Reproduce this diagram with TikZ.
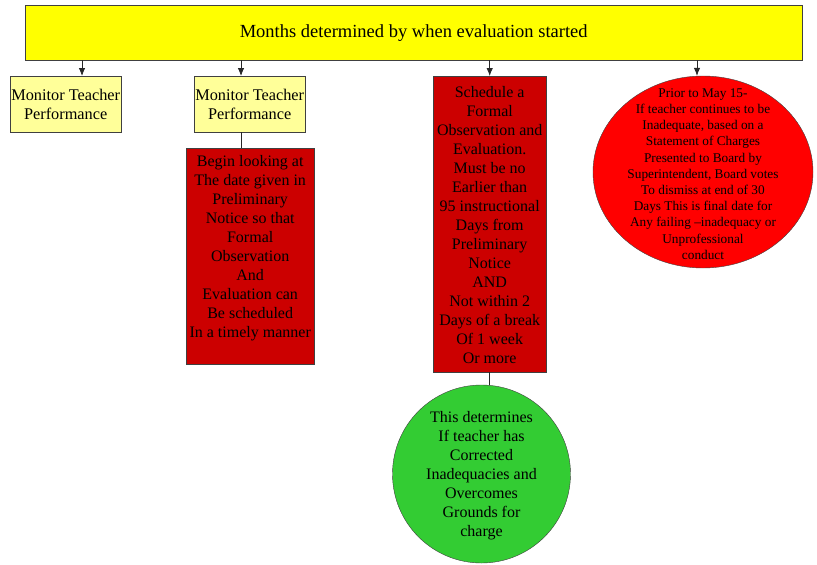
\documentclass[tikz,border=0pt]{standalone}
\usepackage{fontspec}
\setmainfont{Liberation Serif}
\usetikzlibrary{shapes.geometric,arrows.meta}
\definecolor{headyellow}{HTML}{FFFF00}
\definecolor{paleyellow}{HTML}{FFFF99}
\definecolor{darkred}{HTML}{CC0000}
\definecolor{brightred}{HTML}{FF0000}
\definecolor{grassgreen}{HTML}{33CC33}
\begin{document}
\begin{tikzpicture}[x=1pt,y=-1pt,
  head/.style={draw=black!75,fill=headyellow,inner sep=0,anchor=north west,text centered,font=\fontsize{18.5}{22}\selectfont},
  monitor/.style={draw=black!75,fill=paleyellow,inner sep=0,anchor=north west,align=center,font=\fontsize{16.3}{19}\selectfont},
  stepbox/.style={draw=black!75,fill=darkred,inner sep=0,anchor=north west},
  boxtext/.style={inner sep=0,align=center,font=\fontsize{16}{19}\selectfont},
  smalltext/.style={inner sep=0,align=center,font=\fontsize{13.3}{16.2}\selectfont},
  arr/.style={draw=black!85,line width=0.8pt,-{Latex[length=8pt,width=6.5pt]}},
  link/.style={draw=black!85,line width=0.8pt}
  ]
  \useasboundingbox (0,0) rectangle (817,565);
  %
  % Header
  %
  \node(months)[head,minimum width=777pt,minimum height=55pt] at (25,5) {Months determined by when evaluation started};
  %
  % Nodes
  %
  \node(monitorA)[monitor,minimum width=111pt,minimum height=56pt] at (10,76) {Monitor Teacher\\Performance};
  \node(monitorB)[monitor,minimum width=111pt,minimum height=56pt] at (194,76) {Monitor Teacher\\Performance};
  \node(prelim)  [stepbox,minimum width=128pt,minimum height=216pt] at (186,148) {};
  \node(prelimtxt)[boxtext,anchor=north] at ([yshift=-7pt]prelim.north)
    {Begin looking at\\The date given in\\Preliminary\\Notice so that\\Formal\\Observation\\And\\Evaluation can\\Be scheduled\\In a timely manner};
  \node(schedule)[stepbox,minimum width=113pt,minimum height=296pt] at (433,76) {};
  \node(scheduletxt)[boxtext,anchor=north] at ([yshift=-10pt]schedule.north)
    {Schedule a\\Formal\\Observation and\\Evaluation.\\Must be no\\Earlier than\\95 instructional\\Days from\\Preliminary\\Notice\\AND\\Not within 2\\Days of a break\\Of 1 week\\Or more};
  \node(review)[circle,draw=black!75,fill=grassgreen,inner sep=0,minimum size=178pt] at (481.5,474) {};
  \node(reviewtxt)[boxtext] at ([yshift=-2pt]review.center)
    {This determines\\If teacher has\\Corrected\\Inadequacies and\\Overcomes\\Grounds for\\charge};
  \node(dismiss)[ellipse,draw=black!75,fill=brightred,inner sep=0,minimum width=220pt,minimum height=192pt] at (703,172) {};
  \node(dismisstxt)[smalltext] at ([yshift=-2pt]dismiss.center)
    {Prior to May 15-\\If teacher continues to be\\Inadequate, based on a\\Statement of Charges\\Presented to Board by\\Superintendent, Board votes\\To dismiss at end of 30\\Days This is final date for\\Any failing --inadequacy or\\Unprofessional\\conduct};
  %
  % Arrow ends
  %
  \coordinate (tipA) at ([xshift=72pt]monitorA.north west);
  \coordinate (tipB) at ([xshift=47pt]monitorB.north west);
  \coordinate (tipD) at ([xshift=-6pt]dismiss.north);
  %
  % Arrows
  %
  \draw[arr] (months.south -| tipA) -- (tipA);
  \draw[arr] (months.south -| tipB) -- (tipB);
  \draw[arr] (months.south -| schedule.north) -- (schedule.north);
  \draw[arr] (months.south -| tipD) -- (tipD);
  \draw[link] (monitorB.south -| tipB) -- (prelim.north -| tipB);
  \draw[link] (schedule.south) -- (schedule.south |- review.north);
\end{tikzpicture}
\end{document}
